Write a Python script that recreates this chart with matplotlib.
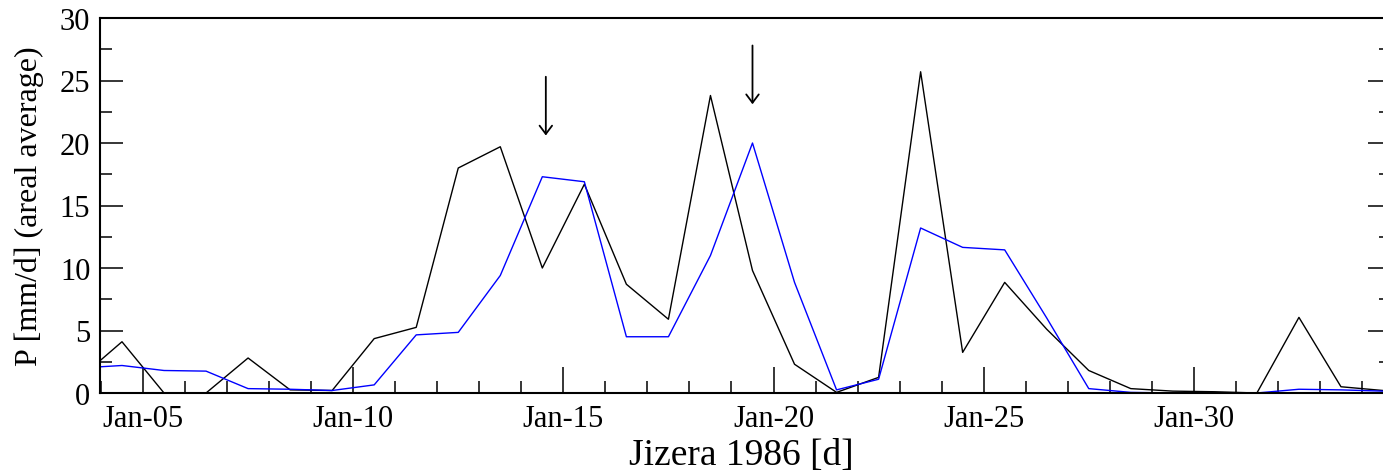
import pandas as pd
import matplotlib
matplotlib.use("Agg")
import matplotlib.pyplot as plt
import matplotlib.dates as mdates
from matplotlib.ticker import MultipleLocator

# daily values, centred at noon, Jan-03 .. Feb-03 1986
days = pd.date_range("1986-01-03 12:00", periods=32, freq="D")

p_black = [1.2, 4.1, 0.0, 0.0, 2.8, 0.25, 0.2, 4.35, 5.25, 18.0,
           19.7, 10.0, 16.7, 8.7, 5.9, 23.8, 9.8, 2.3, 0.05, 1.25,
           25.7, 3.25, 8.85, 5.1, 1.8, 0.35, 0.15, 0.1, 0.0, 6.05,
           0.5, 0.2]
p_blue = [2.0, 2.2, 1.8, 1.75, 0.35, 0.3, 0.2, 0.65, 4.65, 4.85,
          9.4, 17.3, 16.9, 4.5, 4.5, 11.0, 20.0, 8.85, 0.25, 1.1,
          13.2, 11.65, 11.45, 6.0, 0.35, 0.05, 0.0, 0.0, 0.0, 0.3,
          0.25, 0.15]

# marked events (arrows)
arrow_days = [pd.Timestamp("1986-01-14 14:00"), pd.Timestamp("1986-01-19 12:00")]
arrow_top = [25.3, 27.8]
arrow_tip = [20.6, 23.1]

plt.rcParams["font.family"] = ["Liberation Serif", "DejaVu Serif"]

fig = plt.figure(figsize=(13.83, 4.77), dpi=100)
# the right edge of the frame runs a little past the picture, as in the original crop
ax = fig.add_axes([100 / 1383, 83 / 477, 1291 / 1383, 375 / 477])

ax.plot(days, p_black, color="black", lw=1.0)
ax.plot(days, p_blue, color="#0000ff", lw=1.0)

for d, y0, y1 in zip(arrow_days, arrow_top, arrow_tip):
    ax.annotate("", xy=(d, y1), xytext=(d, y0),
                arrowprops=dict(arrowstyle="->,head_length=0.6,head_width=0.45",
                                color="black", lw=1.3, mutation_scale=10,
                                shrinkA=0, shrinkB=0))

ax.set_xlim(pd.Timestamp("1986-01-03 23:27"), pd.Timestamp("1986-02-03 16:34"))
ax.set_ylim(0, 30)

ax.xaxis.set_major_locator(mdates.DayLocator(bymonthday=[5, 10, 15, 20, 25, 30]))
ax.xaxis.set_minor_locator(mdates.DayLocator())
ax.xaxis.set_major_formatter(mdates.DateFormatter("%b-%d"))
ax.yaxis.set_major_locator(MultipleLocator(5))
ax.yaxis.set_minor_locator(MultipleLocator(2.5))

for s in ax.spines.values():
    s.set_linewidth(1.5)

ax.tick_params(which="both", direction="in", top=False, right=True,
               width=1.1, labelsize=22, colors="black")
ax.tick_params(axis="x", which="major", length=18.5, pad=8)
ax.tick_params(axis="y", which="major", length=16.5, pad=7)
ax.tick_params(which="minor", length=8.5)

ax.set_xlabel("Jizera 1986 [d]", fontsize=27)
ax.set_ylabel("P [mm/d] (areal average)", fontsize=23)
ax.xaxis.set_label_coords(0.5 * 1282 / 1291, -0.12)
ax.yaxis.set_label_coords(-0.044 * 1282 / 1291, 0.5)

fig.savefig("out.png", dpi=100)
